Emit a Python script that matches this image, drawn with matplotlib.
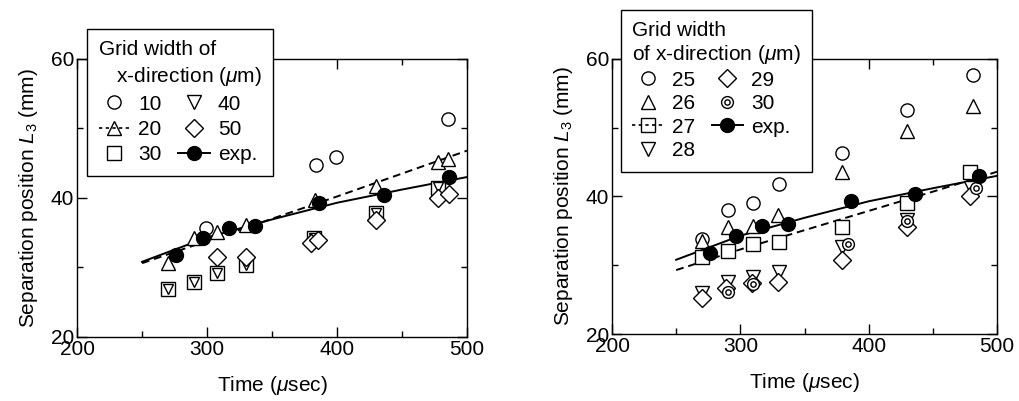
import matplotlib
matplotlib.use('Agg')
import matplotlib.pyplot as plt
from matplotlib.lines import Line2D
from matplotlib.path import Path
from matplotlib.ticker import MultipleLocator

plt.rcParams['font.family'] = ['Liberation Sans', 'DejaVu Sans']
plt.rcParams['mathtext.fontset'] = 'custom'
plt.rcParams['mathtext.it'] = 'Liberation Sans:italic'
plt.rcParams['mathtext.rm'] = 'Liberation Sans'

# experiment (same in both panels)
exp_t = [276, 297, 317, 337, 386, 436, 486]
exp_L = [31.8, 34.2, 35.7, 36.0, 39.3, 40.4, 43.0]
fit_t = [250, 300, 350, 400, 450, 500]
fit_L = [30.8, 34.3, 36.9, 39.3, 41.2, 43.0]

# left panel: grid widths 10..50 um
g10_t = [299, 384, 399, 485]
g10_L = [35.7, 44.8, 45.9, 51.4]
g20_t = [270, 290, 308, 330, 383, 430, 478, 485]
g20_L = [30.6, 34.2, 35.1, 36.1, 39.7, 41.7, 45.2, 45.6]
g30_t = [270, 290, 308, 330, 382, 430, 478]
g30_L = [26.9, 27.9, 29.2, 30.4, 34.2, 37.8, 41.4]
g40_t = [270, 290, 308, 330, 382, 430, 478]
g40_L = [26.9, 27.9, 29.2, 30.4, 34.2, 37.8, 41.5]
g50_t = [308, 330, 380, 385, 430, 478, 486]
g50_L = [31.5, 31.5, 33.5, 34.0, 36.8, 40.0, 40.6]
fit20_t = [250, 300, 350, 400, 450, 500]
fit20_L = [30.6, 33.8, 37.0, 40.2, 43.5, 46.8]

# right panel: grid widths 25..30 um
g25_t = [270, 290, 310, 330, 379, 430, 481]
g25_L = [33.8, 38.0, 39.0, 41.8, 46.3, 52.6, 57.7]
g26_t = [270, 290, 310, 329, 379, 430, 481]
g26_L = [33.6, 35.6, 35.7, 37.3, 43.6, 49.5, 53.2]
g27_t = [270, 290, 310, 330, 379, 430, 479]
g27_L = [31.2, 32.1, 33.1, 33.4, 35.6, 39.1, 43.6]
g28_t = [270, 290, 310, 330, 379, 430, 480]
g28_L = [26.0, 27.6, 28.3, 29.0, 32.7, 36.6, 41.3]
g29_t = [270, 289, 309, 329, 379, 430, 479]
g29_L = [25.2, 26.7, 27.4, 27.6, 30.8, 35.6, 40.0]
g30r_t = [290, 310, 384, 430, 484]
g30r_L = [26.1, 27.3, 33.1, 36.4, 41.2]
fit27_t = [250, 300, 350, 400, 450, 500]
fit27_L = [29.3, 32.3, 35.1, 37.9, 40.7, 43.6]

circ = Path.unit_circle()
ring = Path.make_compound_path(circ, Path(circ.vertices * 0.45, circ.codes))

FS = 15
MS = 9.5
open_kw = dict(ls='none', mfc='white', mec='black', mew=1.0, ms=MS)


def style_axes(ax):
    ax.set_xlim(200, 500)
    ax.set_ylim(20, 60)
    ax.xaxis.set_major_locator(MultipleLocator(100))
    ax.xaxis.set_minor_locator(MultipleLocator(50))
    ax.yaxis.set_major_locator(MultipleLocator(20))
    ax.yaxis.set_minor_locator(MultipleLocator(10))
    ax.tick_params(which='both', direction='in', top=True, right=True,
                   labelsize=FS, width=1.0, pad=2)
    ax.tick_params(which='major', length=7)
    ax.tick_params(which='minor', length=4)
    for s in ax.spines.values():
        s.set_linewidth(1.0)
    ax.set_xlabel(r'Time ($\mu$sec)', fontsize=FS, labelpad=11)
    ax.set_ylabel(r'Separation position $L_3$ (mm)', fontsize=FS, labelpad=8)


def make_legend(ax, handles, labels, title, anchor, lsp, tsp):
    leg = ax.legend(handles, labels, title=title, ncol=2, loc='upper left',
                    bbox_to_anchor=anchor, borderaxespad=0, fontsize=FS,
                    title_fontsize=FS, frameon=True, fancybox=False,
                    framealpha=1, edgecolor='black', handlelength=1.5,
                    handletextpad=0.4, columnspacing=0.8, labelspacing=lsp,
                    borderpad=0.55, alignment='left')
    leg.get_frame().set_linewidth(1.0)
    leg.get_title().set_linespacing(tsp)
    leg.set_zorder(10)
    return leg


fig = plt.figure(figsize=(10.19, 4.01), dpi=100)
axL = fig.add_axes([0.0756, 0.160, 0.3827, 0.693])
axR = fig.add_axes([0.6006, 0.167, 0.3778, 0.686])

# ---- left
axL.plot(fit_t, fit_L, color='black', lw=1.4, zorder=2)
axL.plot(fit20_t, fit20_L, color='black', lw=1.4, ls=(0, (4, 2.5)), zorder=2)
axL.plot(g10_t, g10_L, marker='o', **open_kw, zorder=3)
axL.plot(g20_t, g20_L, marker='^', **open_kw, zorder=3)
axL.plot(g30_t, g30_L, marker='s', **open_kw, zorder=3)
axL.plot(g40_t, g40_L, marker='v', **dict(open_kw, ms=MS - 2), zorder=3)
axL.plot(g50_t, g50_L, marker='D', **dict(open_kw, ms=MS - 0.5), zorder=3)
axL.plot(exp_t, exp_L, marker='o', ls='none', color='black', ms=MS + 0.5, zorder=4)
style_axes(axL)

hL = [Line2D([], [], marker='o', **open_kw),
      Line2D([], [], marker='^', mfc='none', mec='black', ms=MS, color='black',
             ls=(0, (2, 2)), lw=1.2),
      Line2D([], [], marker='s', **open_kw),
      Line2D([], [], marker='v', **open_kw),
      Line2D([], [], marker='D', **open_kw),
      Line2D([], [], marker='o', color='black', ms=MS + 0.5, lw=1.4)]
make_legend(axL, hL, ['10', '20', '30', '40', '50', 'exp.'],
            'Grid width of\n   x-direction ($\\mu$m)', (0.026, 1.108), 0.3, 1.35)

# ---- right
axR.plot(fit_t, fit_L, color='black', lw=1.4, zorder=2)
axR.plot(fit27_t, fit27_L, color='black', lw=1.4, ls=(0, (4, 2.5)), zorder=2)
axR.plot(g25_t, g25_L, marker='o', **open_kw, zorder=3)
axR.plot(g26_t, g26_L, marker='^', **open_kw, zorder=3)
axR.plot(g27_t, g27_L, marker='s', **open_kw, zorder=3)
axR.plot(g28_t, g28_L, marker='v', **open_kw, zorder=3)
axR.plot(g29_t, g29_L, marker='D', **dict(open_kw, ms=MS - 0.5), zorder=3)
axR.plot(g30r_t, g30r_L, marker=ring, **dict(open_kw, ms=MS - 1), zorder=3)
axR.plot(exp_t, exp_L, marker='o', ls='none', color='black', ms=MS + 0.5, zorder=4)
style_axes(axR)

hR = [Line2D([], [], marker='o', **open_kw),
      Line2D([], [], marker='^', **open_kw),
      Line2D([], [], marker='s', mfc='none', mec='black', ms=MS, color='black',
             ls=(0, (2, 2)), lw=1.2),
      Line2D([], [], marker='v', **open_kw),
      Line2D([], [], marker='D', **open_kw),
      Line2D([], [], marker=ring, **dict(open_kw, ms=MS - 1)),
      Line2D([], [], marker='o', color='black', ms=MS + 0.5, lw=1.4)]
make_legend(axR, hR, ['25', '26', '27', '28', '29', '30', 'exp.'],
            'Grid width\nof x-direction ($\\mu$m)', (0.023, 1.178), 0.22, 1.15)

fig.savefig('out.png', dpi=100)
